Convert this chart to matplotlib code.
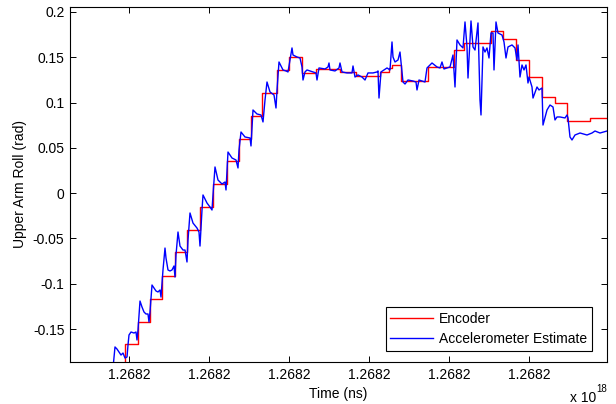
import matplotlib
matplotlib.use("Agg")
import matplotlib.pyplot as plt

plt.rcParams['font.family'] = ['Liberation Sans', 'DejaVu Sans']
plt.rcParams['font.size'] = 10

# encoder (staircase), time in s relative to start, value in rad
enc_t = [0.43, 0.55, 0.68, 0.80, 0.92, 1.05, 1.17, 1.30, 1.43, 1.57,
         1.69, 1.81, 1.92, 2.07, 2.19, 2.32, 2.46, 2.70, 2.86, 3.10,
         3.19, 3.22, 3.31, 3.58, 3.84, 3.94, 4.21, 4.33, 4.46, 4.59,
         4.72, 4.85, 4.97, 5.20, 5.37]
enc_v = [-0.2008, -0.1666, -0.1423, -0.1169, -0.0915, -0.0650, -0.0407, -0.0153, 0.0101, 0.0355,
         0.0598, 0.0852, 0.1106, 0.1360, 0.1503, 0.1327, 0.1371, 0.1338, 0.1293, 0.1338,
         0.1382, 0.1415, 0.1238, 0.1393, 0.1580, 0.1658, 0.1790, 0.1702, 0.1470, 0.1282,
         0.1062, 0.0995, 0.0797, 0.0830, 0.0830]

# accelerometer estimate
acc_t = [0.43, 0.45, 0.47, 0.49, 0.51, 0.53, 0.55, 0.57, 0.58, 0.59,
         0.61, 0.64, 0.66, 0.67, 0.68, 0.70, 0.72, 0.74, 0.76, 0.78,
         0.79, 0.80, 0.82, 0.84, 0.86, 0.88, 0.90, 0.91, 0.93, 0.95,
         0.96, 0.98, 1.00, 1.02, 1.04, 1.05, 1.06, 1.08, 1.10, 1.13,
         1.15, 1.17, 1.18, 1.20, 1.23, 1.27, 1.29, 1.30, 1.32, 1.33,
         1.35, 1.37, 1.40, 1.42, 1.43, 1.45, 1.48, 1.52, 1.55, 1.56,
         1.58, 1.62, 1.66, 1.68, 1.69, 1.71, 1.75, 1.80, 1.81, 1.83,
         1.87, 1.91, 1.93, 1.95, 1.97, 2.00, 2.04, 2.06, 2.07, 2.09,
         2.13, 2.16, 2.18, 2.20, 2.22, 2.23, 2.27, 2.30, 2.32, 2.33,
         2.35, 2.37, 2.43, 2.46, 2.47, 2.49, 2.55, 2.58, 2.59, 2.60,
         2.65, 2.69, 2.70, 2.72, 2.77, 2.82, 2.83, 2.85, 2.88, 2.92,
         2.95, 2.98, 3.03, 3.07, 3.08, 3.09, 3.11, 3.14, 3.17, 3.20,
         3.22, 3.23, 3.25, 3.28, 3.30, 3.31, 3.33, 3.35, 3.38, 3.43,
         3.46, 3.47, 3.49, 3.55, 3.57, 3.62, 3.67, 3.70, 3.72, 3.74,
         3.80, 3.83, 3.85, 3.87, 3.90, 3.93, 3.95, 3.97, 3.98, 4.01,
         4.03, 4.05, 4.08, 4.10, 4.11, 4.13, 4.15, 4.17, 4.19, 4.21,
         4.23, 4.24, 4.26, 4.28, 4.32, 4.34, 4.36, 4.38, 4.42, 4.45,
         4.47, 4.48, 4.50, 4.52, 4.54, 4.56, 4.58, 4.59, 4.62, 4.63,
         4.67, 4.69, 4.72, 4.73, 4.77, 4.80, 4.83, 4.85, 4.87, 4.90,
         4.95, 4.97, 4.98, 5.00, 5.02, 5.05, 5.10, 5.17, 5.22, 5.25,
         5.30, 5.37]
acc_v = [-0.1930, -0.1698, -0.1721, -0.1754, -0.1787, -0.1765, -0.1820, -0.1809, -0.1676, -0.1566,
         -0.1533, -0.1544, -0.1533, -0.1621, -0.1511, -0.1191, -0.1257, -0.1312, -0.1334, -0.1334,
         -0.1423, -0.1312, -0.1014, -0.1047, -0.1080, -0.1091, -0.1069, -0.1147, -0.0848, -0.0606,
         -0.0716, -0.0848, -0.0859, -0.0848, -0.0804, -0.0926, -0.0683, -0.0429, -0.0584, -0.0628,
         -0.0628, -0.0760, -0.0517, -0.0219, -0.0330, -0.0385, -0.0429, -0.0584, -0.0186, -0.0020,
         -0.0064, -0.0109, -0.0153, -0.0186, -0.0020, 0.0289, 0.0145, 0.0101, 0.0123, 0.0035,
         0.0454, 0.0388, 0.0366, 0.0278, 0.0476, 0.0675, 0.0620, 0.0609, 0.0521, 0.0918,
         0.0874, 0.0863, 0.0786, 0.1028, 0.1227, 0.1117, 0.1084, 0.0940, 0.1139, 0.1448,
         0.1360, 0.1349, 0.1338, 0.1470, 0.1603, 0.1525, 0.1503, 0.1492, 0.1393, 0.1249,
         0.1338, 0.1360, 0.1338, 0.1327, 0.1249, 0.1382, 0.1371, 0.1393, 0.1437, 0.1360,
         0.1349, 0.1382, 0.1437, 0.1338, 0.1327, 0.1327, 0.1404, 0.1282, 0.1305, 0.1282,
         0.1249, 0.1327, 0.1327, 0.1338, 0.1349, 0.1050, 0.1338, 0.1360, 0.1382, 0.1360,
         0.1669, 0.1503, 0.1448, 0.1470, 0.1558, 0.1448, 0.1227, 0.1205, 0.1249, 0.1238,
         0.1227, 0.1139, 0.1249, 0.1227, 0.1382, 0.1437, 0.1393, 0.1382, 0.1448, 0.1371,
         0.1393, 0.1525, 0.1172, 0.1691, 0.1636, 0.1603, 0.1890, 0.1614, 0.1271, 0.1901,
         0.1614, 0.1580, 0.1879, 0.1028, 0.0863, 0.1614, 0.1558, 0.1603, 0.1492, 0.1768,
         0.1768, 0.1360, 0.1890, 0.1768, 0.1746, 0.1669, 0.1492, 0.1614, 0.1636, 0.1603,
         0.1470, 0.1636, 0.1282, 0.1415, 0.1360, 0.1415, 0.1216, 0.1282, 0.1172, 0.1050,
         0.1172, 0.1139, 0.1161, 0.0752, 0.0918, 0.0973, 0.0951, 0.0808, 0.0841, 0.0841,
         0.0830, 0.0863, 0.0830, 0.0620, 0.0587, 0.0642, 0.0664, 0.0642, 0.0664, 0.0686,
         0.0664, 0.0686]

xticks = [0.59, 1.39, 2.19, 2.99, 3.79, 4.59]
xtick_labels = ['1.2682'] * 6
yticks = [-0.15, -0.1, -0.05, 0, 0.05, 0.1, 0.15, 0.2]
ytick_labels = ['-0.15', '-0.1', '-0.05', '0', '0.05', '0.1', '0.15', '0.2']

fig = plt.figure(figsize=(6.16, 4.04), dpi=100)
ax = fig.add_axes([70/616, 42/404, 537/616, 355/404])

ax.plot(enc_t, enc_v, color='#ff0000', lw=1.0, drawstyle='steps-post', label='Encoder')
ax.plot(acc_t, acc_v, color='#0000ff', lw=1.0, label='Accelerometer Estimate')

ax.set_xlim(0, 5.37)
ax.set_ylim(-0.1864, 0.2055)
ax.set_xticks(xticks)
ax.set_xticklabels(xtick_labels)
ax.set_yticks(yticks)
ax.set_yticklabels(ytick_labels)
ax.tick_params(direction='in', length=4, width=0.7, top=True, right=True,
               labelsize=10, pad=4)
for s in ax.spines.values():
    s.set_linewidth(0.8)

ax.set_xlabel('Time (ns)', fontsize=10, labelpad=4)
ax.set_ylabel('Upper Arm Roll (rad)', fontsize=10, labelpad=4)

fig.text(570/616, 1 - 398/404, 'x 10', fontsize=10, va='center', ha='left')
fig.text(596/616, 1 - 389/404, '18', fontsize=7, va='center', ha='left')

leg = ax.legend(loc='lower right', bbox_to_anchor=(0.972, 0.031), borderaxespad=0,
                fancybox=False, edgecolor='black', framealpha=1, handlelength=3.1,
                handletextpad=0.4, labelspacing=0.45, borderpad=0.35, fontsize=10)
leg.get_frame().set_linewidth(0.8)

fig.savefig('out.png', dpi=100)
